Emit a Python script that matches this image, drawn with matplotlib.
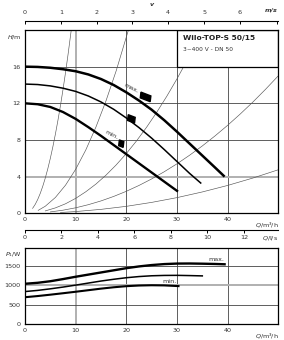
import numpy as np
import matplotlib.pyplot as plt
from matplotlib.patches import Rectangle

plt.rcParams['font.family'] = 'DejaVu Sans'
plt.rcParams['mathtext.fontset'] = 'dejavusans'

# pump curves H(Q), Q in m3/h, H in m
q_max = [0, 2.5, 5, 7.5, 10, 12.5, 15, 17.5, 20, 22.5, 25, 27.5, 30, 32.5, 35, 37.5, 39.4]
h_max = [16.0, 15.97, 15.88, 15.72, 15.5, 15.15, 14.65, 14.0, 13.2, 12.3, 11.3, 10.15,
         8.9, 7.6, 6.3, 5.0, 4.0]
q_mid = [0, 2.5, 5, 7.5, 10, 12.5, 15, 17.5, 20, 22.5, 25, 27.5, 30, 32.5, 34.8]
h_mid = [14.1, 14.05, 13.9, 13.65, 13.3, 12.8, 12.15, 11.35, 10.4, 9.35, 8.2, 6.95,
         5.65, 4.35, 3.25]
q_min = [0, 2.5, 5, 7.5, 10, 12.5, 15, 17.5, 20, 22.5, 25, 27.5, 30, 30.2]
h_min = [12.0, 11.9, 11.6, 11.05, 10.3, 9.4, 8.45, 7.45, 6.45, 5.45, 4.45, 3.45,
         2.45, 2.37]

# system curves (thin lines)
sys_q = [
    [1.5, 2, 2.5, 3, 3.5, 4, 4.5, 5, 5.5, 6, 6.5, 7, 7.5, 8, 8.5, 9.13],
    [2.6, 4, 6, 8, 10, 12, 14, 16, 18, 20.4],
    [4, 6, 8, 10, 12, 14, 16, 18, 20, 22, 24, 26, 28, 30, 32, 35],
    [5, 7.5, 10, 12.5, 15, 17.5, 20, 22.5, 25, 27.5, 30, 32.5, 35, 37.5, 40, 42.5,
     45, 47.5, 50],
    [7, 10, 15, 20, 25, 30, 35, 40, 45, 50],
]
sys_h = [
    [0.54, 0.96, 1.5, 2.16, 2.94, 3.84, 4.86, 6.0, 7.26, 8.64, 10.14, 11.76, 13.5,
     15.36, 17.34, 20.0],
    [0.32, 0.77, 1.73, 3.07, 4.8, 6.91, 9.41, 12.29, 15.55, 19.97],
    [0.26, 0.59, 1.04, 1.63, 2.35, 3.19, 4.17, 5.28, 6.52, 7.89, 9.39, 11.02, 12.78,
     14.67, 16.69, 19.97],
    [0.15, 0.34, 0.6, 0.94, 1.35, 1.84, 2.4, 3.04, 3.75, 4.54, 5.4, 6.34, 7.35, 8.44,
     9.6, 10.84, 12.15, 13.54, 15.0],
    [0.09, 0.19, 0.43, 0.76, 1.19, 1.71, 2.33, 3.04, 3.85, 4.75],
]

# power curves P1(Q)
pq_max = [0, 2.5, 5, 7.5, 10, 12.5, 15, 17.5, 20, 22.5, 25, 27.5, 30, 32.5, 35, 37.5, 39.4]
p_max = [1040, 1065, 1105, 1160, 1220, 1275, 1330, 1385, 1440, 1485, 1520, 1545, 1558,
         1560, 1555, 1548, 1540]
pq_mid = [0, 2.5, 5, 7.5, 10, 12.5, 15, 17.5, 20, 22.5, 25, 27.5, 30, 32.5, 35]
p_mid = [840, 870, 910, 955, 1005, 1058, 1110, 1155, 1195, 1225, 1245, 1254, 1256,
         1250, 1242]
pq_min = [0, 2.5, 5, 7.5, 10, 12.5, 15, 17.5, 20, 22.5, 25, 27.5, 30.3]
p_min = [695, 725, 760, 797, 835, 875, 915, 950, 978, 995, 1002, 998, 980]

# speed markers on the H curves
mark_q = [23.8, 21.0, 19.0]
mark_h = [12.7, 10.3, 7.6]
mark_w = [2.0, 1.4, 0.9]

q_ticks = [0, 10, 20, 30, 40]
h_ticks = [0, 4, 8, 12, 16]
p_ticks = [0, 500, 1000, 1500]
v_ticks = [0, 1, 2, 3, 4, 5, 6]
ls_ticks = [0, 2, 4, 6, 8, 10, 12]

W, H = 284, 340
fig = plt.figure(figsize=(W / 100, H / 100), dpi=100)

def fr(x0, y0, x1, y1):
    return [x0 / W, 1 - y1 / H, (x1 - x0) / W, (y1 - y0) / H]

txt = '#333333'
fs = 4.6
dark = dict(color='#444444', lw=0.6, zorder=1)
light = dict(color='#b0b0b0', lw=1.4, zorder=1)

# ---- head plot
ax = fig.add_axes(fr(25, 30, 278.3, 213.3))
ax.set_xlim(0, 50)
ax.set_ylim(0, 20)
for q in [10, 20, 30, 40]:
    ax.axvline(q, **(light if q == 10 else dark))
for h in [4, 8, 12, 16]:
    ax.axhline(h, **(light if h == 4 else dark))
for qs, hs in zip(sys_q, sys_h):
    ax.plot(qs, hs, color='#555555', lw=0.45, zorder=2)
ax.plot(q_max, h_max, color='black', lw=1.8, zorder=4, solid_capstyle='butt')
ax.plot(q_mid, h_mid, color='black', lw=1.1, zorder=4, solid_capstyle='butt')
ax.plot(q_min, h_min, color='black', lw=1.7, zorder=4, solid_capstyle='butt')
for q, h, w in zip(mark_q, mark_h, mark_w):
    ax.add_patch(Rectangle((q - w / 2, h - 0.32), w, 0.64, angle=-12,
                           rotation_point='center', color='black', zorder=5))
ax.text(21.0, 13.6, 'max.', fontsize=fs, color=txt, rotation=-27,
        ha='center', va='center', zorder=5)
ax.text(17.1, 8.5, 'min.', fontsize=fs, color=txt, rotation=-27,
        ha='center', va='center', zorder=5)
ax.add_patch(Rectangle((30, 16), 20, 4, facecolor='white', edgecolor='black',
                       lw=0.9, zorder=6))
ax.text(31.1, 19.1, 'Wilo-TOP-S 50/15', fontsize=5.4, fontweight='bold',
        color='#222222', va='center', zorder=7)
ax.text(31.1, 17.9, '3~400 V - DN 50', fontsize=4.2, color=txt,
        va='center', zorder=7)
ax.set_xticks(q_ticks)
ax.set_yticks(h_ticks)
ax.tick_params(length=0, labelsize=fs, labelcolor=txt, pad=3)
for s in ax.spines.values():
    s.set_linewidth(0.9)
    s.set_zorder(8)
ax.text(-0.012, 0.985, '$H$/m', transform=ax.transAxes, fontsize=fs,
        color=txt, ha='right', va='top')
ax.text(1.0, -0.038, '$Q$/m³/h', transform=ax.transAxes, fontsize=fs,
        color=txt, ha='right', va='top')

# ---- velocity scale on top (DN 50)
q_per_v = 3600 * np.pi * 0.025 ** 2
axv = fig.add_axes(fr(25, 20.7, 278.3, 21.7))
axv.set_xlim(0, 50)
axv.set_yticks([])
for k in ['left', 'right', 'bottom']:
    axv.spines[k].set_visible(False)
axv.spines['top'].set_linewidth(0.8)
axv.xaxis.tick_top()
axv.set_xticks([v * q_per_v for v in v_ticks] + [49.8])
axv.set_xticklabels([str(v) for v in v_ticks] + [''])
axv.tick_params(direction='in', length=2.5, width=0.7, labelsize=fs,
                labelcolor=txt, pad=4)
fig.text(278 / W, 1 - 10.5 / H, 'm/s', fontsize=fs, style='italic',
         fontweight='bold', color=txt, ha='right', va='center')
fig.text(152 / W, 1 - 5 / H, 'v', fontsize=fs, style='italic',
         fontweight='bold', color=txt, ha='center', va='center')

# ---- l/s scale
axl = fig.add_axes(fr(25, 228.5, 278.3, 229.5))
axl.set_xlim(0, 50)
axl.set_yticks([])
for k in ['left', 'right', 'top']:
    axl.spines[k].set_visible(False)
axl.spines['bottom'].set_linewidth(0.8)
axl.set_xticks([v * 3.6 for v in ls_ticks])
axl.set_xticklabels([str(v) for v in ls_ticks])
axl.tick_params(direction='out', length=2.5, width=0.7, labelsize=fs,
                labelcolor=txt, pad=1.5)
fig.text(278 / W, 1 - 238.5 / H, '$Q$/l/s', fontsize=fs, color=txt,
         ha='right', va='center')

# ---- power plot
axp = fig.add_axes(fr(25, 248.3, 278.3, 324.3))
axp.set_xlim(0, 50)
axp.set_ylim(0, 1950)
for q in [10, 20, 30, 40]:
    axp.axvline(q, **(light if q == 10 else dark))
for p in [500, 1000, 1500]:
    axp.axhline(p, **(light if p == 1000 else dark))
axp.plot(pq_max, p_max, color='black', lw=1.7, zorder=4)
axp.plot(pq_mid, p_mid, color='black', lw=1.1, zorder=4)
axp.plot(pq_min, p_min, color='black', lw=1.5, zorder=4)
axp.text(37.8, 1670, 'max.', fontsize=fs, color=txt, ha='center', va='center')
axp.text(28.5, 1095, 'min.', fontsize=fs, color=txt, ha='center', va='center')
axp.set_xticks(q_ticks)
axp.set_yticks(p_ticks)
axp.tick_params(length=0, labelsize=fs, labelcolor=txt, pad=3)
for s in axp.spines.values():
    s.set_linewidth(0.9)
    s.set_zorder(8)
axp.text(-0.012, 0.98, '$P_1$/W', transform=axp.transAxes, fontsize=fs,
         color=txt, ha='right', va='top')
axp.text(1.0, -0.09, '$Q$/m³/h', transform=axp.transAxes, fontsize=fs,
         color=txt, ha='right', va='top')

fig.savefig('out.png', dpi=100)
